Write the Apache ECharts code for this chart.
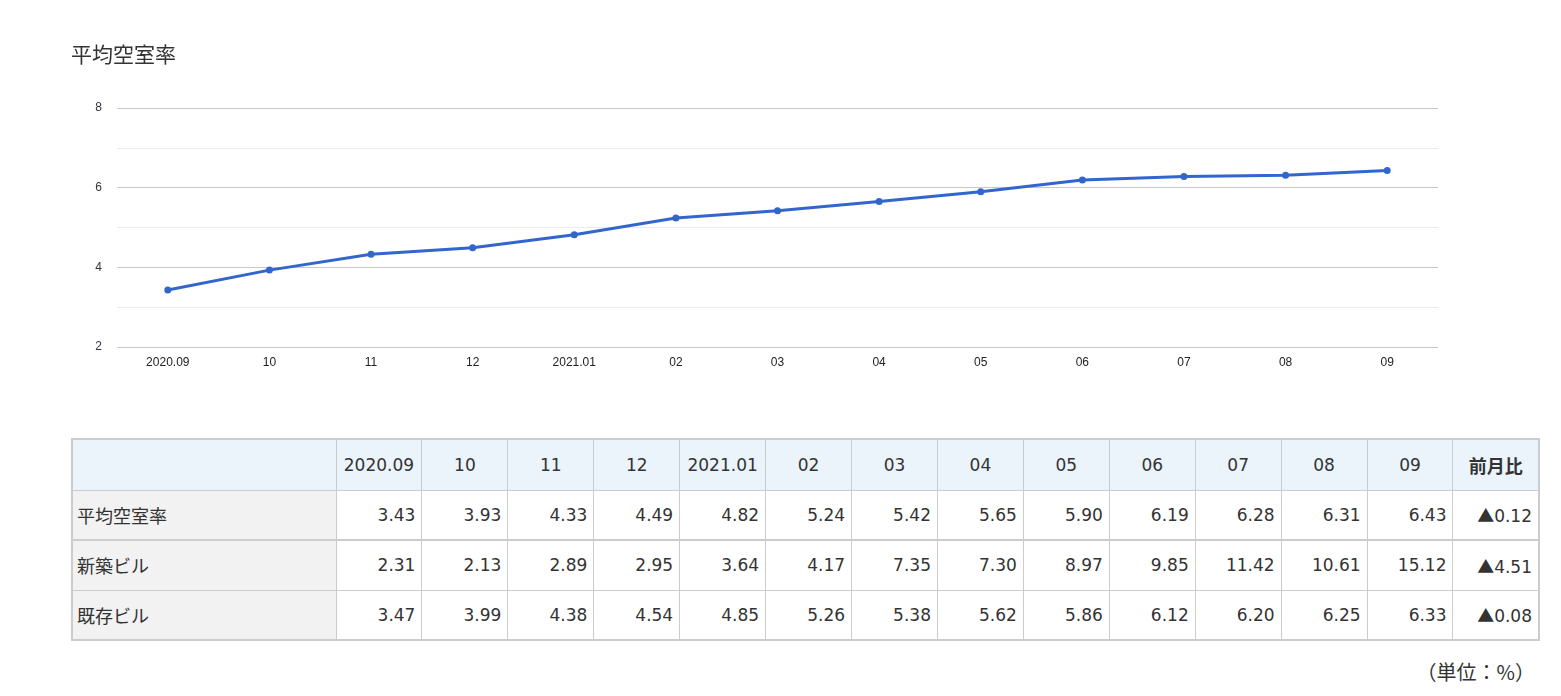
<!DOCTYPE html>
<html><head><meta charset="utf-8">
<script src="https://cdn.jsdelivr.net/npm/echarts@6/dist/echarts.min.js"></script>
<style>
body{margin:0;background:#fff;font-family:"DejaVu Sans","Noto Sans CJK JP",sans-serif;color:#333;}
#chart{position:absolute;left:0;top:0;width:1561px;height:420px;}
#tbl{position:absolute;left:71px;top:438px;width:1469px;border-collapse:collapse;table-layout:fixed;border:2px solid #ccc;font-size:17px;}
#tbl td,#tbl th{border:1px solid #ccc;padding:0 6px;height:50px;box-sizing:border-box;font-weight:normal;white-space:nowrap;}
#tbl th{background:#ebf3fb;text-align:center;height:51px;}
#tbl th.b{font-weight:bold;font-family:"Noto Sans CJK JP";font-size:18px;}
#tbl td{text-align:right;}
#tbl td.l{text-align:left;background:#f2f2f2;font-family:"Noto Sans CJK JP";font-size:18px;padding-left:4px;}
#tbl tr.r1 td{border-bottom:2px solid #ccc;}
#tbl .tri{font-family:"Noto Sans CJK JP";font-size:17px;}
#unit{position:absolute;right:26px;top:657px;font-size:20px;color:#333;font-family:"Noto Sans CJK JP";}
</style></head><body>
<div id="chart"></div>
<table id="tbl"></table>
<div id="unit">（単位：%）</div>
<script>
var categories = ['2020.09','10','11','12','2021.01','02','03','04','05','06','07','08','09'];
var avgRate = [3.43,3.93,4.33,4.49,4.82,5.24,5.42,5.65,5.90,6.19,6.28,6.31,6.43];
var newBldg = [2.31,2.13,2.89,2.95,3.64,4.17,7.35,7.30,8.97,9.85,11.42,10.61,15.12];
var oldBldg = [3.47,3.99,4.38,4.54,4.85,5.26,5.38,5.62,5.86,6.12,6.20,6.25,6.33];
var rowLabels = ['平均空室率','新築ビル','既存ビル'];
var momChange = ['0.12','4.51','0.08'];
var chartTitle = '平均空室率';

var chart = echarts.init(document.getElementById('chart'));
chart.setOption({
  animation:false,
  title:{text:chartTitle,left:71,top:44,padding:0,textStyle:{fontSize:21,fontWeight:'normal',color:'#333',fontFamily:'Noto Sans CJK JP'}},
  grid:{left:117,right:123,top:108,height:239},
  xAxis:{type:'category',data:categories,boundaryGap:true,
    axisLine:{show:false},axisTick:{show:false},
    axisLabel:{color:'#222',fontSize:12,fontFamily:'Liberation Sans, Arial',margin:10}},
  yAxis:{type:'value',min:2,max:8,interval:1,
    axisLine:{show:false},axisTick:{show:false},
    axisLabel:{color:'#334',fontSize:12,fontFamily:'Liberation Sans, Arial',margin:15,
      formatter:function(v){return v%2===0?String(v):'';}},
    splitLine:{lineStyle:{color:['#c8c8c8','#ebebeb'],width:1}}},
  series:[{type:'line',data:avgRate,symbol:'circle',symbolSize:7,
    lineStyle:{color:'#3366cc',width:3},itemStyle:{color:'#3366cc'}}]
});

var t = document.getElementById('tbl');
var h = '<colgroup><col style="width:264px">';
for (var i=0;i<14;i++) h+='<col>';
h+='</colgroup><tr><th></th>';
categories.forEach(function(c){h+='<th>'+c+'</th>';});
h+='<th class="b">前月比</th></tr>';
[avgRate,newBldg,oldBldg].forEach(function(arr,k){
  h+='<tr class="r'+(k+1)+'"><td class="l">'+rowLabels[k]+'</td>';
  arr.forEach(function(v){h+='<td>'+v.toFixed(2)+'</td>';});
  h+='<td><span class="tri">▲</span>'+momChange[k]+'</td></tr>';
});
t.innerHTML=h;
</script>
</body></html>
